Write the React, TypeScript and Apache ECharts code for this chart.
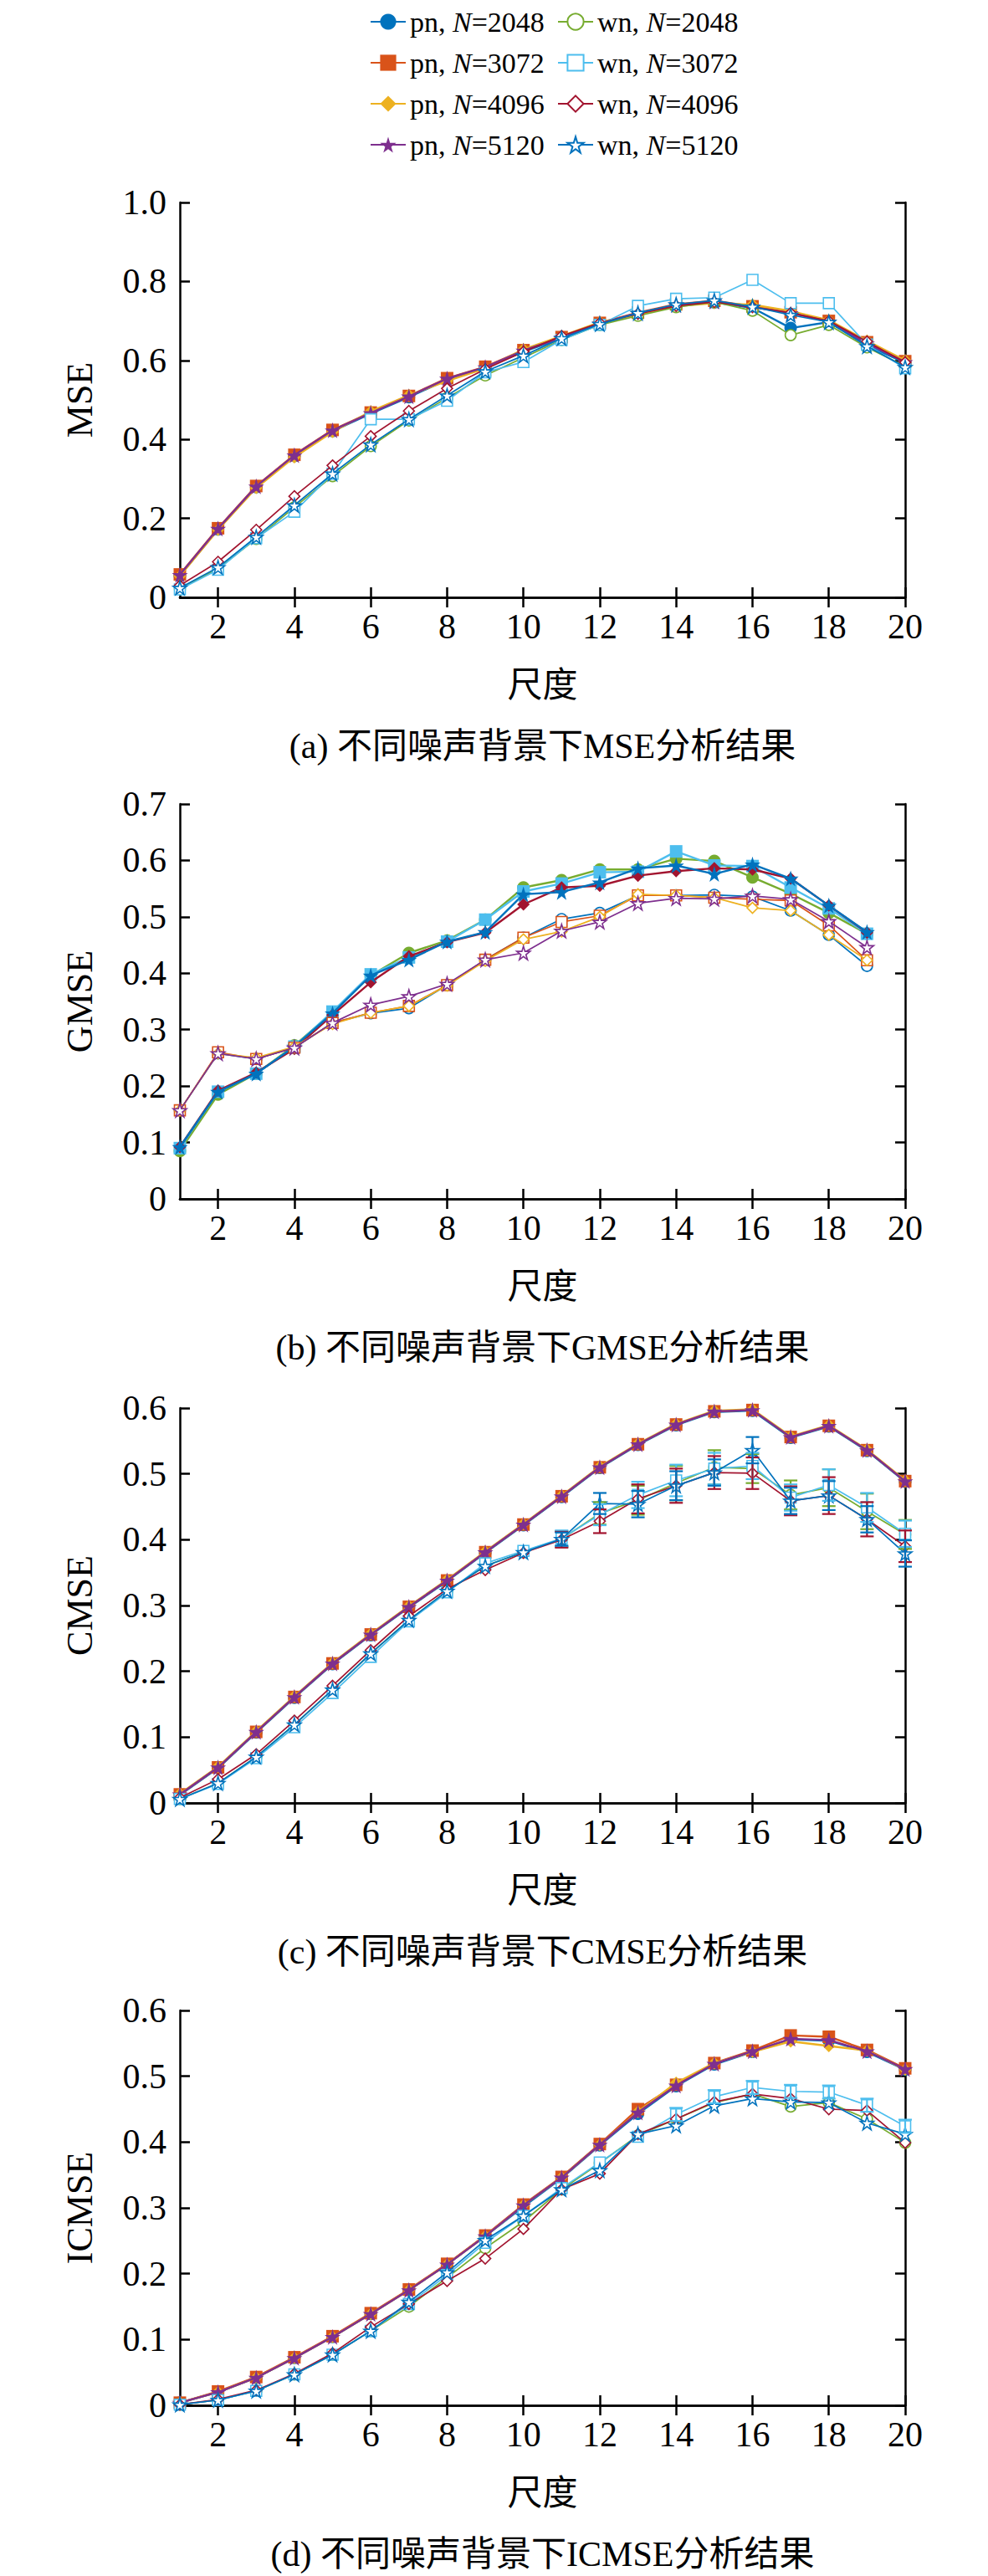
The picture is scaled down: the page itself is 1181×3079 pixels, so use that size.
import { useEffect, useRef } from "react";
import * as echarts from "echarts";

// 尺度 1..20
const scales = [1, 2, 3, 4, 5, 6, 7, 8, 9, 10, 11, 12, 13, 14, 15, 16, 17, 18, 19, 20];
const xTicks = [2, 4, 6, 8, 10, 12, 14, 16, 18, 20];

const names = [
  "pn, N=2048", "pn, N=3072", "pn, N=4096", "pn, N=5120",
  "wn, N=2048", "wn, N=3072", "wn, N=4096", "wn, N=5120",
];

// (a) MSE
const msePn2048 = [0.055, 0.172, 0.279, 0.358, 0.421, 0.465, 0.507, 0.551, 0.582, 0.622, 0.656, 0.692, 0.718, 0.738, 0.747, 0.733, 0.682, 0.697, 0.638, 0.594];
const msePn3072 = [0.058, 0.175, 0.282, 0.361, 0.424, 0.468, 0.51, 0.555, 0.584, 0.626, 0.659, 0.695, 0.721, 0.742, 0.751, 0.737, 0.722, 0.7, 0.646, 0.598];
const msePn4096 = [0.054, 0.171, 0.277, 0.355, 0.419, 0.471, 0.512, 0.548, 0.58, 0.628, 0.662, 0.697, 0.716, 0.737, 0.745, 0.741, 0.725, 0.702, 0.65, 0.6];
const msePn5120 = [0.057, 0.174, 0.281, 0.36, 0.423, 0.467, 0.509, 0.554, 0.583, 0.625, 0.658, 0.694, 0.72, 0.74, 0.749, 0.735, 0.72, 0.698, 0.643, 0.596];
const mseWn2048 = [0.022, 0.073, 0.148, 0.228, 0.307, 0.383, 0.448, 0.505, 0.562, 0.607, 0.652, 0.69, 0.713, 0.735, 0.748, 0.726, 0.664, 0.69, 0.633, 0.585];
const mseWn3072 = [0.02, 0.07, 0.15, 0.217, 0.313, 0.451, 0.451, 0.498, 0.57, 0.596, 0.652, 0.69, 0.738, 0.756, 0.759, 0.804, 0.745, 0.745, 0.64, 0.58];
const mseWn4096 = [0.03, 0.09, 0.171, 0.256, 0.334, 0.408, 0.472, 0.529, 0.578, 0.622, 0.662, 0.695, 0.718, 0.738, 0.748, 0.735, 0.72, 0.7, 0.648, 0.595];
const mseWn5120 = [0.024, 0.076, 0.153, 0.233, 0.313, 0.387, 0.451, 0.511, 0.572, 0.612, 0.656, 0.692, 0.72, 0.742, 0.752, 0.736, 0.715, 0.697, 0.636, 0.583];

// (b) GMSE (尺度 1..19)
const gmsePn2048 = [0.085, 0.185, 0.222, 0.272, 0.33, 0.396, 0.436, 0.458, 0.495, 0.552, 0.565, 0.584, 0.584, 0.603, 0.599, 0.57, 0.541, 0.507, 0.47];
const gmsePn3072 = [0.09, 0.19, 0.222, 0.27, 0.332, 0.398, 0.428, 0.456, 0.495, 0.545, 0.559, 0.579, 0.58, 0.616, 0.591, 0.59, 0.552, 0.515, 0.47];
const gmsePn4096 = [0.092, 0.192, 0.224, 0.266, 0.326, 0.384, 0.43, 0.455, 0.472, 0.522, 0.552, 0.555, 0.573, 0.581, 0.586, 0.584, 0.568, 0.52, 0.472];
const gmsePn5120 = [0.092, 0.19, 0.222, 0.27, 0.329, 0.396, 0.424, 0.456, 0.473, 0.54, 0.544, 0.561, 0.586, 0.591, 0.576, 0.593, 0.568, 0.52, 0.473];
const gmseWn2048 = [0.157, 0.258, 0.248, 0.268, 0.312, 0.329, 0.338, 0.379, 0.424, 0.463, 0.496, 0.507, 0.538, 0.538, 0.539, 0.536, 0.511, 0.468, 0.413];
const gmseWn3072 = [0.157, 0.26, 0.248, 0.268, 0.312, 0.33, 0.342, 0.379, 0.424, 0.463, 0.491, 0.502, 0.538, 0.538, 0.534, 0.531, 0.529, 0.485, 0.423];
const gmseWn4096 = [0.157, 0.258, 0.25, 0.27, 0.31, 0.33, 0.342, 0.378, 0.422, 0.46, 0.474, 0.5, 0.54, 0.538, 0.534, 0.516, 0.511, 0.468, 0.423];
const gmseWn5120 = [0.157, 0.258, 0.248, 0.268, 0.312, 0.344, 0.359, 0.381, 0.424, 0.436, 0.475, 0.491, 0.524, 0.533, 0.532, 0.537, 0.531, 0.492, 0.446];

// (c) CMSE
const cmsePn2048 = [0.012, 0.053, 0.107, 0.16, 0.211, 0.255, 0.297, 0.337, 0.38, 0.422, 0.465, 0.509, 0.544, 0.574, 0.594, 0.596, 0.555, 0.572, 0.535, 0.488];
const cmsePn3072 = [0.013, 0.054, 0.108, 0.161, 0.212, 0.256, 0.298, 0.338, 0.381, 0.423, 0.466, 0.51, 0.545, 0.575, 0.595, 0.597, 0.556, 0.573, 0.536, 0.489];
const cmsePn4096 = [0.014, 0.055, 0.109, 0.162, 0.213, 0.257, 0.299, 0.339, 0.382, 0.424, 0.467, 0.511, 0.546, 0.576, 0.596, 0.598, 0.557, 0.574, 0.537, 0.49];
const cmsePn5120 = [0.013, 0.054, 0.108, 0.161, 0.212, 0.256, 0.298, 0.338, 0.381, 0.423, 0.466, 0.51, 0.545, 0.575, 0.595, 0.597, 0.556, 0.573, 0.536, 0.489];
const cmseWn2048 = [0.006, 0.03, 0.07, 0.119, 0.172, 0.227, 0.278, 0.322, 0.36, 0.381, 0.401, 0.44, 0.46, 0.486, 0.51, 0.508, 0.468, 0.479, 0.443, 0.408];
const cmseWn3072 = [0.006, 0.029, 0.068, 0.115, 0.167, 0.222, 0.276, 0.32, 0.364, 0.383, 0.402, 0.438, 0.468, 0.49, 0.508, 0.512, 0.464, 0.483, 0.449, 0.409];
const cmseWn4096 = [0.008, 0.036, 0.074, 0.125, 0.178, 0.232, 0.284, 0.325, 0.354, 0.38, 0.4, 0.428, 0.462, 0.482, 0.502, 0.501, 0.459, 0.467, 0.431, 0.39];
const cmseWn5120 = [0.006, 0.03, 0.07, 0.119, 0.172, 0.227, 0.278, 0.322, 0.36, 0.381, 0.401, 0.455, 0.454, 0.482, 0.502, 0.536, 0.459, 0.467, 0.431, 0.379];
// error bar half-widths, 尺度 11..20
const cmseErrWn2048 = [0.012, 0.017, 0.022, 0.026, 0.026, 0.022, 0.022, 0.028, 0.027, 0.022];
const cmseErrWn3072 = [0.012, 0.016, 0.02, 0.024, 0.024, 0.02, 0.02, 0.024, 0.022, 0.02];
const cmseErrWn4096 = [0.012, 0.018, 0.022, 0.026, 0.025, 0.024, 0.022, 0.028, 0.026, 0.024];
const cmseErrWn5120 = [0.01, 0.016, 0.02, 0.022, 0.02, 0.02, 0.02, 0.022, 0.02, 0.02];

// (d) ICMSE
const icmsePn2048 = [0.004, 0.02, 0.042, 0.072, 0.104, 0.139, 0.175, 0.214, 0.257, 0.302, 0.345, 0.395, 0.443, 0.485, 0.518, 0.537, 0.556, 0.554, 0.537, 0.51];
const icmsePn3072 = [0.004, 0.021, 0.043, 0.073, 0.105, 0.14, 0.176, 0.215, 0.258, 0.305, 0.347, 0.397, 0.45, 0.487, 0.52, 0.539, 0.562, 0.56, 0.54, 0.512];
const icmsePn4096 = [0.004, 0.02, 0.042, 0.072, 0.104, 0.139, 0.175, 0.214, 0.257, 0.304, 0.346, 0.396, 0.446, 0.49, 0.52, 0.537, 0.553, 0.546, 0.539, 0.51];
const icmsePn5120 = [0.004, 0.02, 0.042, 0.072, 0.104, 0.139, 0.175, 0.214, 0.257, 0.304, 0.346, 0.396, 0.445, 0.486, 0.519, 0.538, 0.557, 0.555, 0.538, 0.511];
const icmseWn2048 = [0.001, 0.008, 0.022, 0.047, 0.077, 0.113, 0.15, 0.194, 0.239, 0.279, 0.328, 0.368, 0.41, 0.435, 0.46, 0.473, 0.454, 0.46, 0.435, 0.399];
const icmseWn3072 = [0.001, 0.008, 0.022, 0.047, 0.077, 0.113, 0.154, 0.198, 0.247, 0.288, 0.33, 0.369, 0.408, 0.442, 0.469, 0.483, 0.477, 0.476, 0.456, 0.424];
const icmseWn4096 = [0.001, 0.009, 0.023, 0.048, 0.079, 0.119, 0.154, 0.189, 0.223, 0.268, 0.328, 0.352, 0.412, 0.435, 0.461, 0.473, 0.466, 0.45, 0.448, 0.399];
const icmseWn5120 = [0.001, 0.008, 0.022, 0.047, 0.077, 0.113, 0.157, 0.202, 0.251, 0.288, 0.328, 0.357, 0.412, 0.425, 0.455, 0.466, 0.461, 0.46, 0.429, 0.412];
// error bar half-widths for wn N=3072, 尺度 14..20
const icmseErrWn3072 = [0.01, 0.01, 0.01, 0.01, 0.01, 0.01, 0.01];

const BLUE = "#0072BD";
const ORANGE = "#D95319";
const YELLOW = "#EDB120";
const PURPLE = "#7E2F8E";
const GREEN = "#77AC30";
const CYAN = "#4DBEEE";
const RED = "#A2142F";

const STAR = "path://M50,0 L61,35 L98,35 L68,57 L79,91 L50,70 L21,91 L32,57 L2,35 L39,35 Z";
const shapes = ["circle", "rect", "diamond", STAR, "circle", "rect", "diamond", STAR];

const SERIF = "Liberation Serif";
const FONT = "Liberation Serif, Noto Sans CJK SC";

const panels = [
  {
    name: "MSE", max: 1.0, step: 0.2, top: 242, caption: "(a) 不同噪声背景下MSE分析结果",
    data: [msePn2048, msePn3072, msePn4096, msePn5120, mseWn2048, mseWn3072, mseWn4096, mseWn5120],
    colors: [BLUE, ORANGE, YELLOW, PURPLE, GREEN, CYAN, RED, BLUE],
    errs: [] as { s: number; from: number; err: number[] }[],
  },
  {
    name: "GMSE", max: 0.7, step: 0.1, top: 961, caption: "(b) 不同噪声背景下GMSE分析结果",
    data: [gmsePn2048, gmsePn3072, gmsePn4096, gmsePn5120, gmseWn2048, gmseWn3072, gmseWn4096, gmseWn5120],
    colors: [GREEN, CYAN, RED, BLUE, BLUE, ORANGE, YELLOW, PURPLE],
    errs: [],
  },
  {
    name: "CMSE", max: 0.6, step: 0.1, top: 1683, caption: "(c) 不同噪声背景下CMSE分析结果",
    data: [cmsePn2048, cmsePn3072, cmsePn4096, cmsePn5120, cmseWn2048, cmseWn3072, cmseWn4096, cmseWn5120],
    colors: [BLUE, ORANGE, YELLOW, PURPLE, GREEN, CYAN, RED, BLUE],
    errs: [
      { s: 4, from: 11, err: cmseErrWn2048 },
      { s: 5, from: 11, err: cmseErrWn3072 },
      { s: 6, from: 11, err: cmseErrWn4096 },
      { s: 7, from: 11, err: cmseErrWn5120 },
    ],
  },
  {
    name: "ICMSE", max: 0.6, step: 0.1, top: 2403, caption: "(d) 不同噪声背景下ICMSE分析结果",
    data: [icmsePn2048, icmsePn3072, icmsePn4096, icmsePn5120, icmseWn2048, icmseWn3072, icmseWn4096, icmseWn5120],
    colors: [BLUE, ORANGE, YELLOW, PURPLE, GREEN, CYAN, RED, BLUE],
    errs: [{ s: 5, from: 14, err: icmseErrWn3072 }],
  },
];

const LEFT = 215;
const WIDTH = 867;
const HEIGHT = 472;

export default function App() {
  const chartRef = useRef<HTMLDivElement>(null);

  useEffect(() => {
    if (!chartRef.current) return;
    const chart = echarts.init(chartRef.current, null, { renderer: "svg" });

    const axisLine = { show: true, lineStyle: { color: "#000", width: 2.5 } };
    const tick = { show: true, inside: true, length: 12, lineStyle: { color: "#000", width: 2.5 } };
    const labelFont = { color: "#000", fontFamily: SERIF, fontSize: 42 };

    const grid: any[] = [];
    const xAxis: any[] = [];
    const yAxis: any[] = [];
    const series: any[] = [];
    const graphic: any[] = [];

    panels.forEach((p, g) => {
      grid.push({ left: LEFT, top: p.top, width: WIDTH, height: HEIGHT, show: false });
      const xBase = { type: "value", gridIndex: g, min: 1, max: 20, splitLine: { show: false }, axisLine };
      xAxis.push({
        ...xBase, position: "bottom",
        name: "尺度", nameLocation: "middle", nameGap: 84,
        nameTextStyle: { color: "#000", fontFamily: FONT, fontSize: 42 },
        axisTick: { ...tick, customValues: xTicks },
        axisLabel: { ...labelFont, margin: 14, customValues: xTicks },
      });
      xAxis.push({
        ...xBase, position: "top",
        axisTick: { ...tick, customValues: xTicks },
        axisLabel: { show: false, customValues: xTicks },
      });
      const yBase = { type: "value", gridIndex: g, min: 0, max: p.max, interval: p.step, splitLine: { show: false }, axisLine, axisTick: tick };
      yAxis.push({
        ...yBase, position: "left",
        name: p.name, nameLocation: "middle", nameGap: 98, nameRotate: 90,
        nameTextStyle: { color: "#000", fontFamily: SERIF, fontSize: 44 },
        axisLabel: { ...labelFont, margin: 16, formatter: (v: number) => (v === 0 ? "0" : v.toFixed(1)) },
      });
      yAxis.push({ ...yBase, position: "right", axisLabel: { show: false } });

      p.data.forEach((vals, s) => {
        const c = p.colors[s];
        const filled = s < 4;
        series.push({
          type: "line",
          name: names[s],
          xAxisIndex: 2 * g,
          yAxisIndex: 2 * g,
          data: vals.map((v, i) => [scales[i], v]),
          symbol: shapes[s],
          symbolSize: filled ? (s === 3 ? 19 : 15) : (s === 7 ? 16 : 13),
          lineStyle: { color: c, width: filled ? 2.4 : 1.7 },
          itemStyle: filled ? { color: c } : { color: "#fff", borderColor: c, borderWidth: 1.6 },
          z: 2 + s,
        });
      });

      p.errs.forEach((e) => {
        const base = p.data[e.s];
        const c = p.colors[e.s];
        series.push({
          type: "custom",
          name: names[e.s],
          xAxisIndex: 2 * g,
          yAxisIndex: 2 * g,
          data: e.err.map((er, i) => [e.from + i, base[e.from - 1 + i], er]),
          z: 12,
          renderItem: (_params: any, api: any) => {
            const x = api.value(0);
            const y = api.value(1);
            const er = api.value(2);
            const hi = api.coord([x, y + er]);
            const lo = api.coord([x, y - er]);
            const w = 8;
            const st = { stroke: c, lineWidth: 2.2 };
            return {
              type: "group",
              children: [
                { type: "line", shape: { x1: hi[0], y1: hi[1], x2: lo[0], y2: lo[1] }, style: st },
                { type: "line", shape: { x1: hi[0] - w, y1: hi[1], x2: hi[0] + w, y2: hi[1] }, style: st },
                { type: "line", shape: { x1: lo[0] - w, y1: lo[1], x2: lo[0] + w, y2: lo[1] }, style: st },
              ],
            };
          },
        });
      });

      graphic.push({
        type: "text",
        x: LEFT + WIDTH / 2,
        y: p.top + HEIGHT + 178,
        style: { text: p.caption, fontFamily: FONT, fontSize: 42, fill: "#000", align: "center", verticalAlign: "middle" },
      });
    });

    const legendText = (name: string) => {
      const [head, num] = name.split("N=");
      return `{n|${head}}{i|N}{n|=${num}}`;
    };
    const LF = 34;
    const legendStyle = {
      fontFamily: SERIF,
      fontSize: LF,
      color: "#000",
      lineHeight: 40,
      rich: {
        n: { fontFamily: SERIF, fontSize: LF, color: "#000", lineHeight: 40 },
        i: { fontFamily: SERIF, fontSize: LF, color: "#000", fontStyle: "italic", lineHeight: 40 },
      },
    };
    const legendBase = {
      orient: "vertical",
      top: 1,
      itemWidth: 42,
      itemHeight: 24,
      itemGap: 9,
      formatter: legendText,
      textStyle: legendStyle,
    };

    chart.setOption({
      animation: false,
      backgroundColor: "#fff",
      grid,
      xAxis,
      yAxis,
      series,
      graphic,
      legend: [
        { ...legendBase, left: 437, data: names.slice(0, 4) },
        { ...legendBase, left: 661, data: names.slice(4) },
      ],
    });

    return () => {
      chart.dispose();
    };
  }, []);

  return (
    <div
      ref={chartRef}
      style={{ position: "absolute", left: 0, top: 0, width: "1181px", height: "3079px", background: "#fff" }}
    ></div>
  );
}
